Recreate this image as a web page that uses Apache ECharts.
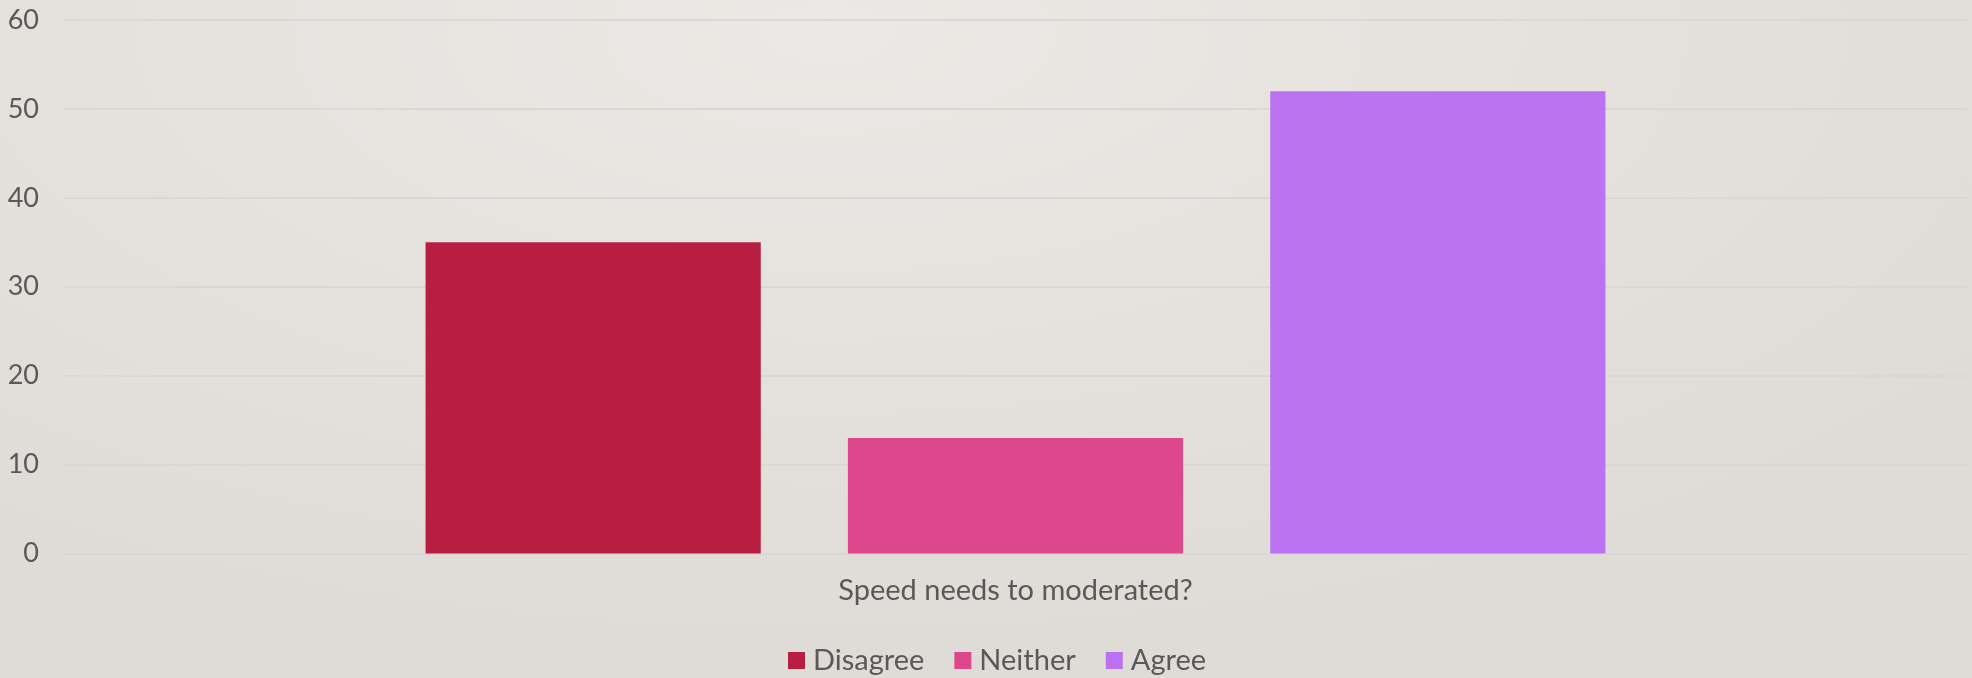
<!DOCTYPE html>
<html>
<head>
<meta charset="utf-8">
<script src="https://cdn.jsdelivr.net/npm/echarts@6/dist/echarts.min.js"></script>
<style>
html,body{margin:0;padding:0;width:1972px;height:678px;overflow:hidden;}
body{background:radial-gradient(ellipse 70% 90% at 42% 5%, #ebe9e5 0%, #e6e3df 45%, #dfdcd8 100%);}
#c{width:1972px;height:678px;}
</style>
</head>
<body>
<div id="c"></div>
<script>
const categories = ['Speed needs to moderated?'];
const seriesNames = ['Disagree', 'Neither', 'Agree'];
const disagreeValues = [35];
const neitherValues = [13];
const agreeValues = [52];
const yTicks = [0, 10, 20, 30, 40, 50, 60];

const colors = ['#b81e42', '#de478d', '#bb72f0'];
const font = 'Lato, "Open Sans", sans-serif';
const chart = echarts.init(document.getElementById('c'), null, {renderer: 'canvas'});
const dataSets = [disagreeValues, neitherValues, agreeValues];
chart.setOption({
  backgroundColor: 'transparent',
  animation: false,
  grid: {left: 64, right: 5, top: 20, bottom: 124.5, containLabel: false},
  legend: {
    data: seriesNames,
    top: 641,
    left: 783,
    itemWidth: 17,
    itemHeight: 17,
    itemGap: 30,
    icon: 'rect',
    textStyle: {color: '#595959', fontSize: 29, fontFamily: font, padding: [0, 0, 0, 3]}
  },
  xAxis: {
    type: 'category',
    data: categories,
    axisLine: {show: false},
    axisTick: {show: false},
    axisLabel: {color: '#595959', fontSize: 29, fontFamily: font, margin: 23}
  },
  yAxis: {
    type: 'value',
    min: yTicks[0],
    max: yTicks[yTicks.length - 1],
    interval: 10,
    axisLine: {show: false},
    axisTick: {show: false},
    axisLabel: {color: '#595959', fontSize: 27, fontFamily: font, margin: 25},
    splitLine: {lineStyle: {color: '#d9d7d8', width: 2}}
  },
  series: seriesNames.map((n, i) => ({
    name: n,
    type: 'bar',
    data: dataSets[i],
    itemStyle: {color: colors[i]},
    barGap: '26%',
    barCategoryGap: '38%'
  }))
});
</script>
</body>
</html>
